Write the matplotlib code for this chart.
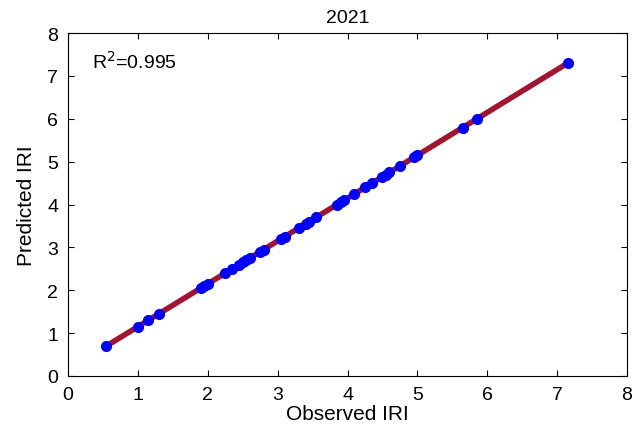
import matplotlib
matplotlib.use("Agg")
import matplotlib.pyplot as plt
import numpy as np

observed = [0.55, 1.0, 1.15, 1.3, 1.9, 1.95, 2.0, 2.25, 2.35, 2.45, 2.5, 2.55,
            2.6, 2.75, 2.8, 3.05, 3.1, 3.3, 3.4, 3.45, 3.55, 3.85, 3.9, 3.95,
            4.1, 4.25, 4.35, 4.5, 4.55, 4.6, 4.75, 4.95, 5.0, 5.65, 5.85, 7.15]
predicted = [0.70, 1.15, 1.30, 1.45, 2.05, 2.10, 2.15, 2.40, 2.50, 2.60, 2.65, 2.70,
             2.75, 2.90, 2.95, 3.20, 3.25, 3.45, 3.55, 3.60, 3.70, 4.00, 4.05, 4.10,
             4.25, 4.40, 4.50, 4.65, 4.70, 4.75, 4.90, 5.10, 5.15, 5.78, 6.00, 7.30]
r2 = 0.995

plt.rcParams["font.family"] = ["Liberation Sans", "DejaVu Sans"]

fig = plt.figure(figsize=(6.44, 4.31), dpi=100)
ax = fig.add_axes([0.1056, 0.1253, 0.868, 0.7957])

obs = np.array(observed)
pred = np.array(predicted)
k, b = np.polyfit(obs, pred, 1)
xs = np.array([obs.min(), obs.max()])
ax.plot(xs, k * xs + b, color="#a2142f", lw=4, zorder=2)
ax.plot(obs, pred, "o", color="#0000ff", ms=7, zorder=3)

ax.set_xlim(0, 8)
ax.set_ylim(0, 8)
ax.set_xticks(range(9))
ax.set_yticks(range(9))
ax.tick_params(direction="in", labelsize=14, length=4, pad=7, top=True, right=True,
               labeltop=False, labelright=False)
ax.set_xlabel("Observed IRI", fontsize=15, labelpad=1)
ax.set_ylabel("Predicted IRI", fontsize=15, labelpad=8)
ax.set_title("2021", fontsize=14, pad=8)
ax.text(0.35, 7.35, f"R$^2$={r2}", fontsize=14, va="center")
for s in ax.spines.values():
    s.set_linewidth(0.8)

fig.savefig("out.png", dpi=100)
